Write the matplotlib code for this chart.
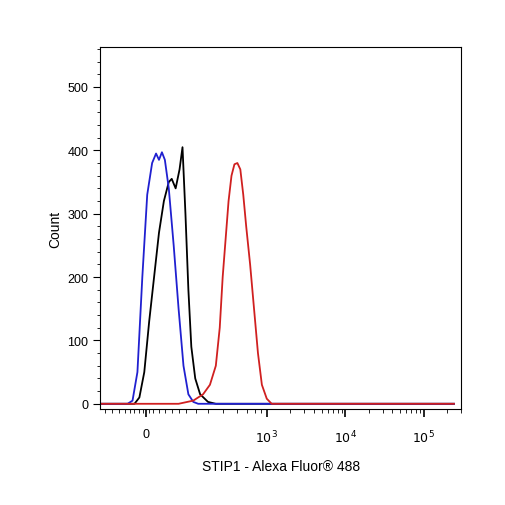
import numpy as np
import matplotlib.pyplot as plt
plt.rcParams['font.family'] = ['Liberation Sans', 'DejaVu Sans']

# x in display-scale units (biexponential axis position)
blue_x = [0,28,33,38,43,48,53,57,60,63,66,70,75,80,85,90,95,100,361]
blue_y = [0,0,5,50,200,330,380,395,385,397,385,340,250,150,60,15,3,0,0]
black_x = [0,35,40,45,50,55,60,65,70,73,77,81,84,87,90,93,97,102,110,118,361]
black_y = [0,0,10,50,130,200,270,320,350,355,340,370,405,300,180,90,40,15,3,0,0]
red_x = [0,80,95,105,112,118,122,125,128,131,134,137,140,143,146,149,153,157,161,165,170,175,361]
red_y = [0,0,5,15,30,60,120,200,260,320,360,378,380,370,330,280,220,150,80,30,8,0,0]
xtick_pos = [47, 170, 250, 330]
xtick_lab = ['0', r'$10^3$', r'$10^4$', r'$10^5$']

fig = plt.figure(figsize=(5.06, 5.06), dpi=100)
ax = fig.add_axes([0.198, 0.19, 0.713, 0.715])
ax.plot(black_x, black_y, color='black', lw=1.3)
ax.plot(blue_x, blue_y, color='#2020d0', lw=1.3)
ax.plot(red_x, red_y, color='#d02020', lw=1.3)
ax.set_xlim(0, 361)
ax.set_ylim(-8, 563)
ax.set_yticks([0, 100, 200, 300, 400, 500])
ax.set_yticks(np.arange(0, 561, 20), minor=True)
ax.set_xticks(xtick_pos)
ax.set_xticklabels(xtick_lab)
minor = []
for base in [170, 250]:
    for k in range(2, 10):
        minor.append(base + 80*np.log10(k))
minor += [330 + 80*np.log10(k) for k in range(2, 4)]
minor += [5, 12, 19, 25, 30, 35, 40, 44, 50, 54, 60, 66, 73, 80, 88, 98, 110, 125, 140, 150, 158, 164]
ax.set_xticks(minor, minor=True)
ax.tick_params(axis='x', which='major', length=6, width=1.2, labelsize=9, pad=8)
ax.tick_params(axis='x', which='minor', length=3)
ax.tick_params(axis='y', which='major', length=5, labelsize=9)
ax.tick_params(axis='y', which='minor', length=2.5)
ax.set_xlabel('STIP1 - Alexa Fluor® 488', fontsize=10, labelpad=10)
ax.set_ylabel('Count', fontsize=10)
fig.savefig('out.png', dpi=100)
